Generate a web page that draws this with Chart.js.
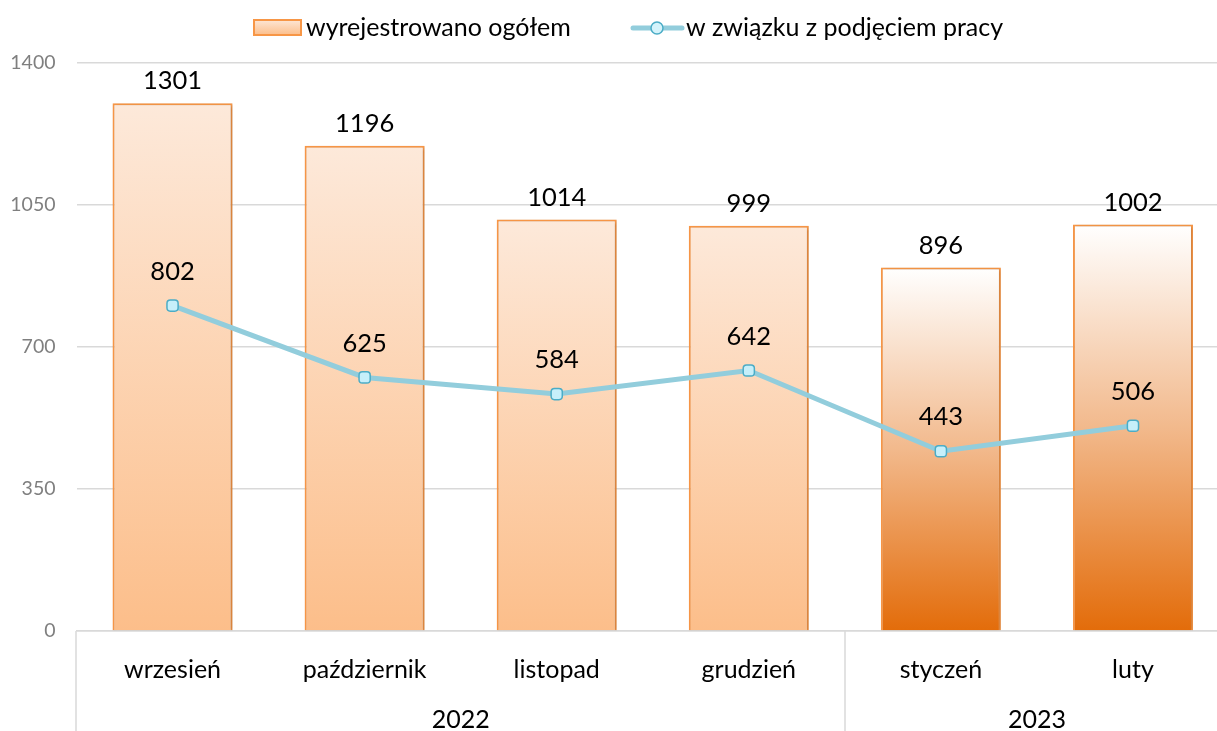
<!DOCTYPE html>
<html>
<head>
<meta charset="utf-8">
<script src="https://cdn.jsdelivr.net/npm/chart.js@4.4.1/dist/chart.umd.min.js"></script>
<style>
  html, body { margin: 0; padding: 0; background: #fff; overflow: hidden; }
  #wrap { width: 1237px; height: 731px; position: relative; }
</style>
</head>
<body>
<div id="wrap"><canvas id="registrationChart" width="1237" height="731"></canvas></div>
<script>
const months = ["wrzesień", "październik", "listopad", "grudzień", "styczeń", "luty"];
const years = ["2022", "2022", "2022", "2022", "2023", "2023"];
const totalDeregistered = [1301, 1196, 1014, 999, 896, 1002];
const tookUpWork = [802, 625, 584, 642, 443, 506];
const yTicks = [0, 350, 700, 1050, 1400];

const FONT = "Lato, 'Open Sans', sans-serif";

// per-bar vertical gradient, last two bars (new year) darker
function barGradient(context) {
  const chart = context.chart;
  const { ctx, chartArea, scales } = chart;
  if (!chartArea) return "#fbc08e";
  const i = context.dataIndex;
  const top = scales.y.getPixelForValue(totalDeregistered[i]);
  const bottom = scales.y.getPixelForValue(0);
  const g = ctx.createLinearGradient(0, top, 0, bottom);
  if (years[i] === "2023") {
    g.addColorStop(0, "#ffffff");
    g.addColorStop(0.5, "#f2b98c");
    g.addColorStop(1, "#e36c0a");
  } else {
    g.addColorStop(0, "#fde9da");
    g.addColorStop(1, "#fcbe8a");
  }
  return g;
}

const valueLabels = {
  id: "valueLabels",
  afterDatasetsDraw(chart) {
    const ctx = chart.ctx;
    ctx.save();
    ctx.font = "25.5px " + FONT;
    ctx.fillStyle = "#000";
    ctx.textAlign = "center";
    ctx.textBaseline = "middle";
    chart.data.datasets.forEach((ds, di) => {
      const meta = chart.getDatasetMeta(di);
      meta.data.forEach((el, i) => {
        const off = ds.type === "line" ? 34 : 22;
        ctx.fillText(String(ds.data[i]), el.x, el.y - off);
      });
    });
    ctx.restore();
  }
};

// year row + group separators under the month labels
const yearGroups = {
  id: "yearGroups",
  afterDraw(chart) {
    const { ctx, chartArea, scales } = chart;
    const x = scales.x;
    const half = (x.getPixelForValue(1) - x.getPixelForValue(0)) / 2;
    const bottom = chart.height;
    ctx.save();
    ctx.strokeStyle = "#d9d9d9";
    ctx.lineWidth = 1.5;
    ctx.font = "25px " + FONT;
    ctx.fillStyle = "#000";
    ctx.textAlign = "center";
    ctx.textBaseline = "middle";
    let start = 0;
    for (let i = 1; i <= years.length; i++) {
      if (i === years.length || years[i] !== years[start]) {
        const x0 = x.getPixelForValue(start) - half;
        const x1 = x.getPixelForValue(i - 1) + half;
        ctx.beginPath();
        ctx.moveTo(Math.round(x0), chartArea.bottom);
        ctx.lineTo(Math.round(x0), bottom);
        ctx.stroke();
        ctx.fillText(years[start], (x0 + x1) / 2, 720);
        start = i;
      }
    }
    ctx.restore();
  }
};

const customLegend = {
  id: "customLegend",
  afterDraw(chart) {
    const ctx = chart.ctx;
    ctx.save();
    ctx.font = "25px " + FONT;
    ctx.textBaseline = "middle";
    // bar entry
    const g = ctx.createLinearGradient(0, 19, 0, 35);
    g.addColorStop(0, "#fde9da");
    g.addColorStop(1, "#fcbe8a");
    ctx.fillStyle = g;
    ctx.fillRect(254, 20, 47, 15);
    ctx.strokeStyle = "#f79646";
    ctx.lineWidth = 2;
    ctx.strokeRect(254, 20, 47, 15);
    ctx.fillStyle = "#000";
    ctx.fillText(chart.data.datasets[1].label, 306, 28);
    // line entry
    ctx.strokeStyle = "#92cddc";
    ctx.lineWidth = 5;
    ctx.lineCap = "round";
    ctx.beginPath();
    ctx.moveTo(633, 28);
    ctx.lineTo(682, 28);
    ctx.stroke();
    ctx.beginPath();
    ctx.arc(657, 28, 6, 0, Math.PI * 2);
    ctx.fillStyle = "#d4f3fb";
    ctx.fill();
    ctx.lineWidth = 1.5;
    ctx.strokeStyle = "#4bacc6";
    ctx.stroke();
    ctx.fillStyle = "#000";
    ctx.fillText(chart.data.datasets[0].label, 686, 28);
    ctx.restore();
  }
};

const barShadow = {
  id: "barShadow",
  beforeDatasetDraw(chart, args) {
    if (args.meta.type !== "bar") return;
    const ctx = chart.ctx;
    ctx.save();
    ctx.shadowColor = "rgba(0,0,0,0.25)";
    ctx.shadowBlur = 3;
    ctx.shadowOffsetX = 1.5;
    ctx.shadowOffsetY = 1;
  },
  afterDatasetDraw(chart, args) {
    if (args.meta.type !== "bar") return;
    chart.ctx.restore();
  }
};

new Chart(document.getElementById("registrationChart"), {
  data: {
    labels: months,
    datasets: [
      {
        type: "line",
        label: "w związku z podjęciem pracy",
        data: tookUpWork,
        borderColor: "#92cddc",
        borderWidth: 5,
        pointStyle: "rectRounded",
        pointRadius: 6.5,
        pointBackgroundColor: "#c6effa",
        pointBorderColor: "#4bacc6",
        pointBorderWidth: 1.5,
        tension: 0,
        order: 0
      },
      {
        type: "bar",
        label: "wyrejestrowano ogółem",
        data: totalDeregistered,
        backgroundColor: barGradient,
        borderColor: "#f79646",
        borderWidth: 2,
        borderSkipped: "bottom",
        categoryPercentage: 1,
        barPercentage: 0.625,
        order: 1
      }
    ]
  },
  options: {
    responsive: false,
    animation: false,
    devicePixelRatio: 1,
    layout: { padding: { top: 63, left: 0, right: 0, bottom: 0 } },
    plugins: {
      legend: { display: false },
      tooltip: { enabled: false }
    },
    scales: {
      x: {
        grid: { display: false, drawTicks: false },
        border: { display: true, color: "#d9d9d9", width: 1.5 },
        ticks: {
          color: "#000",
          font: { family: FONT, size: 25 },
          padding: 24,
          maxRotation: 0
        },
        afterFit(scale) { scale.height = 100; }
      },
      y: {
        min: 0,
        max: 1400,
        afterBuildTicks(scale) { scale.ticks = yTicks.map(v => ({ value: v })); },
        grid: { color: "#d9d9d9", lineWidth: 1.5, drawTicks: false },
        border: { display: false },
        ticks: {
          color: "#7f7f7f",
          font: { family: FONT, size: 19.5 },
          padding: 21,
          callback: v => String(v)
        },
        afterFit(scale) { scale.width = 76.5; }
      }
    }
  },
  plugins: [barShadow, valueLabels, yearGroups, customLegend]
});
</script>
</body>
</html>
